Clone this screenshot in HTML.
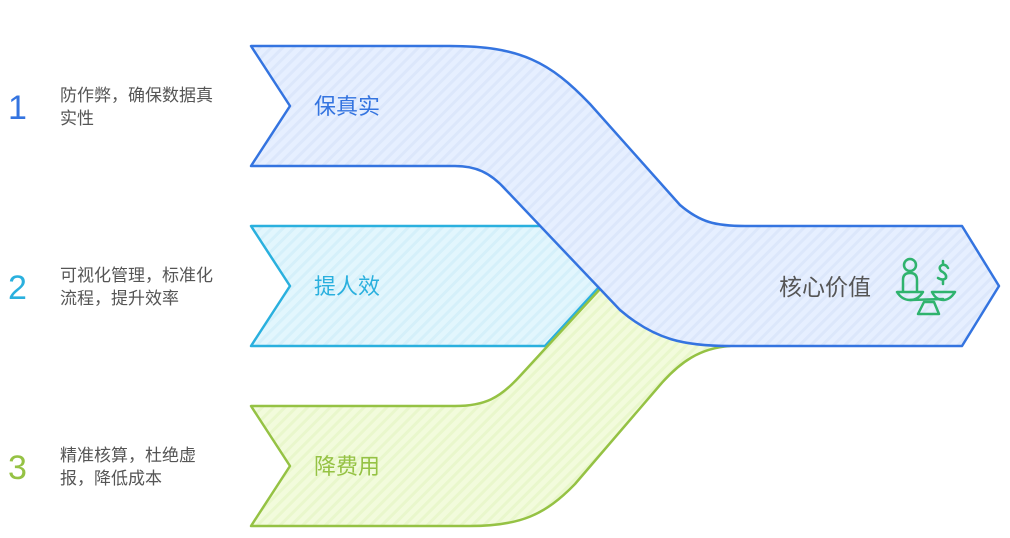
<!DOCTYPE html>
<html><head><meta charset="utf-8"><style>
body{margin:0;background:#fff;width:1010px;height:533px;overflow:hidden;font-family:"Liberation Sans","Noto Sans CJK SC",sans-serif}
</style></head><body>
<svg width="1010" height="533" viewBox="0 0 1010 533" xmlns="http://www.w3.org/2000/svg" font-family="Liberation Sans, Noto Sans CJK SC, sans-serif">
<defs>
<pattern id="pb" width="8" height="8" patternUnits="userSpaceOnUse" patternTransform="rotate(45)"><rect width="8" height="8" fill="#e6efff"/><rect width="3" height="8" fill="#dce7fb"/></pattern>
<pattern id="pc" width="8" height="8" patternUnits="userSpaceOnUse" patternTransform="rotate(45)"><rect width="8" height="8" fill="#e2f6fd"/><rect width="3" height="8" fill="#d5f0fa"/></pattern>
<pattern id="pg" width="8" height="8" patternUnits="userSpaceOnUse" patternTransform="rotate(45)"><rect width="8" height="8" fill="#f2fbdc"/><rect width="3" height="8" fill="#e9f7cc"/></pattern>
</defs>
<path d="M251,226 L545,226 L600,286 L545,346 L251,346 L290,286 Z" fill="url(#pc)" stroke="#2ab0de" stroke-width="2.5" stroke-linejoin="round"/>
<path d="M251,406 L455,406 C485,406 500,398 520,376 L600,289 L665,315 L730,346 C700,348 680,362 660,385 L575,484 C545,515 520,526 470,526 L251,526 L290,466 Z" fill="url(#pg)" stroke="#95c244" stroke-width="2.5" stroke-linejoin="round"/>
<path d="M251,46 L450,46 C520,46 550,62 590,104 L680,205 C700,222 715,226 745,226 L962,226 L999,286 L962,346 L730,346 C685,346 655,340 620,310 L506,190 C490,172 475,166 455,166 L251,166 L290,106 Z" fill="url(#pb)" stroke="#3474e0" stroke-width="2.5" stroke-linejoin="round"/>
<text x="8" y="119" font-size="34" fill="#3474e0">1</text>
<text x="8" y="299" font-size="34" fill="#2ab0de">2</text>
<text x="8" y="479" font-size="34" fill="#95c244">3</text>
<g font-size="17" fill="#555">
<text x="60" y="101">防作弊，确保数据真</text><text x="60" y="124">实性</text>
<text x="60" y="281">可视化管理，标准化</text><text x="60" y="304">流程，提升效率</text>
<text x="60" y="461">精准核算，杜绝虚</text><text x="60" y="484">报，降低成本</text>
</g>
<g font-size="22">
<text x="314" y="114" fill="#3474e0">保真实</text>
<text x="314" y="294" fill="#2ab0de">提人效</text>
<text x="314" y="474" fill="#95c244">降费用</text>
<text x="779" y="295" fill="#555" font-size="23">核心价值</text>
</g>
<g fill="none" stroke="#2fb36e" stroke-width="2.5" stroke-linecap="round" stroke-linejoin="round">
<circle cx="910" cy="265" r="6"/>
<path d="M903,291 L903,280 Q903,273 910,273 Q917,273 917,280 L917,291"/>
<path d="M897,292 L923,292 Q918,300 910,300 Q902,300 897,292Z"/>
<path d="M932,292 L955,292 Q950,300 943,300 Q936,300 932,292Z"/>
<path d="M910,300 L943,299"/>
<path d="M918,314 L924,302 L934,302 L939,314 Z"/>
<path d="M948,268 Q946,264 942,265 Q938,267 941,271 Q947,274 946,278 Q943,281 938,278 M943,261 L943,264 M943,281 L943,284"/>
</g>
</svg>
</body></html>
